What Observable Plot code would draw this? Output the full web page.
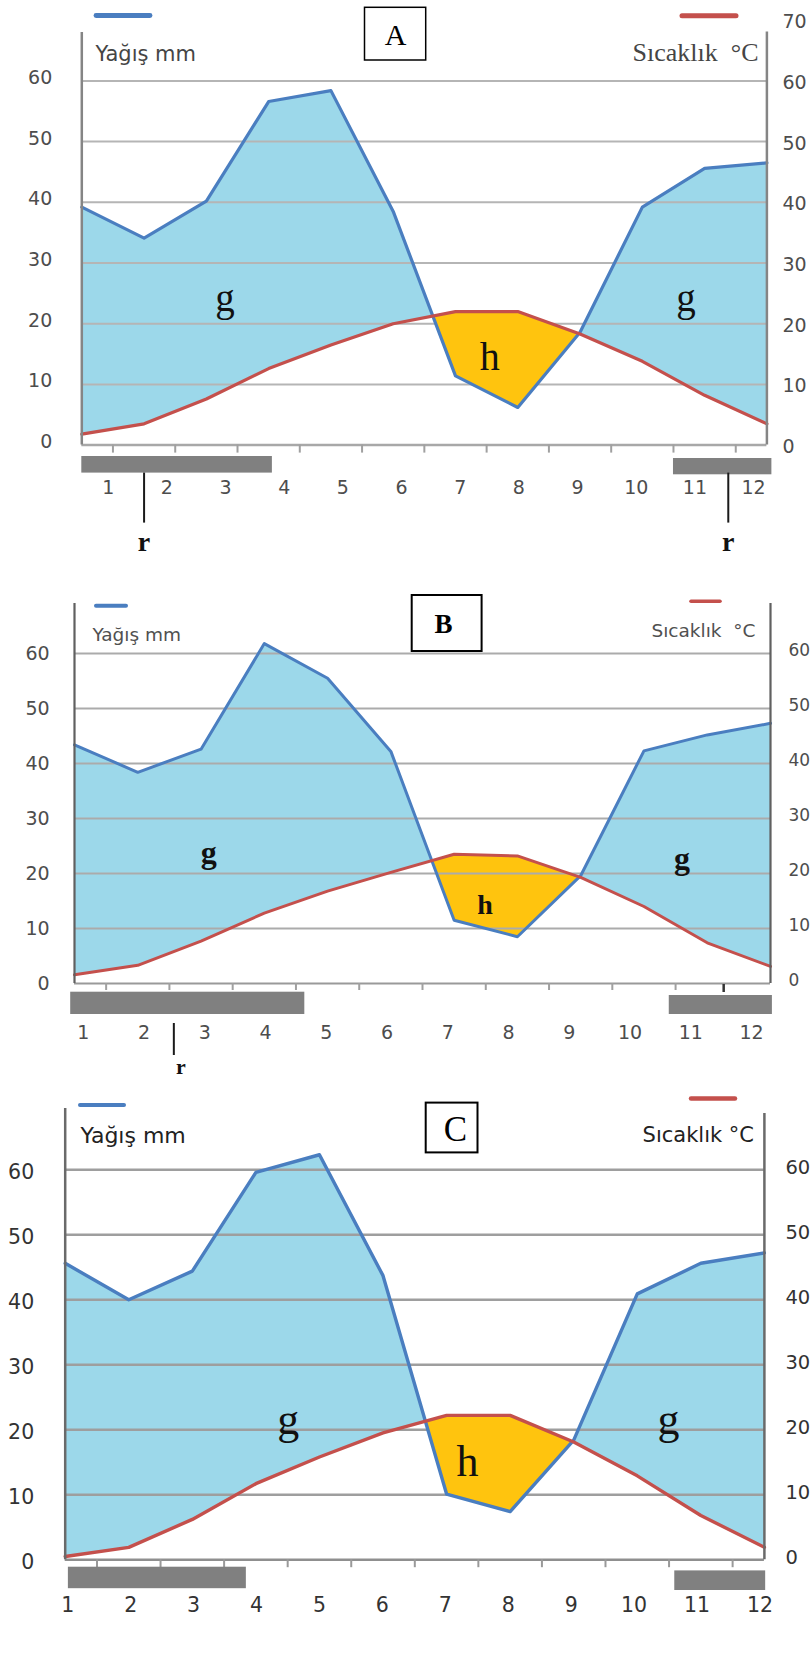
<!DOCTYPE html>
<html><head><meta charset="utf-8">
<script src="https://cdn.jsdelivr.net/npm/d3@7"></script>
<script src="https://cdn.jsdelivr.net/npm/@observablehq/plot@0.6"></script>
<style>
html,body{margin:0;padding:0;background:#fff;overflow:hidden;}
#page{position:relative;width:812px;height:1668px;overflow:hidden;background:#fff;}
.panel{position:absolute;left:0;}
.panel svg{display:block;overflow:hidden;}
</style></head><body><div id="page"></div>
<script>
// ---------- data ----------
const months = [1,2,3,4,5,6,7,8,9,10,11,12];
const monthLabels = ["1","2","3","4","5","6","7","8","9","10","11","12"];
const leftTicks = [0,10,20,30,40,50,60];
const rightTicksA = [0,10,20,30,40,50,60,70];
const rightTicksBC = [0,10,20,30,40,50,60];
const gridValues = [10,20,30,40,50,60];
const halfMonths = [1.5,2.5,3.5,4.5,5.5,6.5,7.5,8.5,9.5,10.5,11.5];
const halfMonthsB = [1.5,2.5,3.5,4.5,5.5,6.5,7.5,8.5,9.5,10.5];

// Panel A
const precipA = [39.2, 34.1, 40.2, 56.6, 58.4, 38.5, 11.4, 6.2, 18.6, 39.2, 45.6, 46.5];
const tempA   = [1.8, 3.5, 7.6, 12.6, 16.5, 20.0, 22.0, 22.0, 18.3, 13.8, 8.2, 3.5];
const barsA = [{from: 1.0, to: 4.06}, {from: 10.5, to: 12.08}];
const rMarksA = [{line: 2.0, text: 2.0}, {line: 11.38, text: 11.38}];
const zonesA = [{x: 3.30, y: 22.1, text: "g"}, {x: 10.70, y: 22.1, text: "g"}, {x: 7.55, y: 12.3, text: "h"}];

// Panel B
const precipB = [43.4, 38.4, 42.6, 61.8, 55.5, 42.2, 11.5, 8.5, 19.6, 42.3, 45.2, 47.3];
const tempB   = [1.6, 3.3, 7.7, 12.8, 16.8, 20.2, 23.5, 23.2, 19.3, 14.0, 7.4, 3.1];
const barsB = [{from: 0.94, to: 4.64}, {from: 10.4, to: 12.03}];
const rMarksB = [{line: 2.57, text: 2.68}];
const zonesB = [{x: 3.12, y: 21.9, text: "g"}, {x: 10.60, y: 20.8, text: "g"}, {x: 7.49, y: 12.7, text: "h"}];

// Panel C
const precipC = [45.6, 40.0, 44.4, 59.6, 62.3, 43.7, 10.1, 7.4, 18.4, 40.9, 45.6, 47.2];
const tempC   = [0.5, 1.9, 6.2, 11.7, 15.8, 19.5, 22.2, 22.2, 18.1, 12.9, 6.8, 1.9];
const barsC = [{from: 1.05, to: 3.85}, {from: 10.59, to: 12.02}];
const rMarksC = [];
const zonesC = [{x: 4.51, y: 19.3, text: "g"}, {x: 10.49, y: 19.3, text: "g"}, {x: 7.33, y: 12.9, text: "h"}];

// ---------- styles ----------
const SANS = "DejaVu Sans";
const SERIF = "Liberation Serif";
const COLORS = {wet: "#9cd8ea", dry: "#ffc40e", precip: "#4a7ec0", temp: "#c4504c", bar: "#808080"};

const panels = [
  {
    top: 0, height: 560, x1px: 81.3, x12px: 766.4, y0px: 444.6, unitPx: 6.07, yMax: 70,
    precip: precipA, temp: tempA, bars: barsA, rMarks: rMarksA, zones: zonesA, rightTicks: rightTicksA,
    gridColor: "#b5b5b5", gridWidth: 2, axisColor: "#858585", axisWidth: 2.5, leftTop: 32, rightTop: 31.4,
    baseColor: "#a8a8a8", baseWidth: 2.5, ticks: halfMonths, tickLen: 8, tickColor: "#a0a0a0",
    barPx: [[11.4, 28], [13.4, 29.7]], labelStart: 1.424, labelStep: 0.942, labelBelow: 48.4,
    tickFont: 19, rightFont: 19, labelColor: "#4d4d4d", leftPad: 29.5, leftDy: -3, rightPad: 15.6, rightDy: 2,
    zoneWeight: "normal", zoneSize: {g: 39, h: 40}, lineWidth: 3.2, dryOverGrid: true,
    rLine: [28, 78], rTextBelow: 105.4, rSize: 28, extraTicks: [],
    legend: [{x1: 96, x2: 150, y: 15, w: 4.8, color: COLORS.precip}, {x1: 682, x2: 736, y: 15.2, w: 5, color: COLORS.temp}],
    box: {x1: 364.5, x2: 425.7, y1: 7.3, y2: 60, sw: 1.5},
    title: {text: "A", x: 395, y: 35, size: 30, weight: "normal"},
    yagis: {x: 95, y: 60, size: 21, font: SANS, color: "#454545"},
    sicaklik: {x: 758, y: 60, size: 26, font: SERIF, color: "#454545", text: "Sıcaklık  °C"}
  },
  {
    top: 560, height: 518, x1px: 74, x12px: 770, y0px: 983, unitPx: 5.5, yMax: 70,
    precip: precipB, temp: tempB, bars: barsB, rMarks: rMarksB, zones: zonesB, rightTicks: rightTicksBC,
    gridColor: "#ababab", gridWidth: 2, axisColor: "#606060", axisWidth: 2.2, leftTop: 603, rightTop: 603,
    baseColor: "#9a9a9a", baseWidth: 2, ticks: halfMonthsB, tickLen: 7, tickColor: "#a0a0a0",
    barPx: [[8.7, 31], [12, 31]], labelStart: 1.14, labelStep: 0.96, labelBelow: 55,
    tickFont: 19, rightFont: 17, labelColor: "#4d4d4d", leftPad: 24.8, leftDy: 0, rightPad: 18, rightDy: -3,
    zoneWeight: "bold", zoneSize: {g: 32, h: 28}, lineWidth: 3, dryOverGrid: false,
    rLine: [40, 72], rTextBelow: 90, rSize: 22, extraTicks: [{x: 11.26, from: 1, to: 9}],
    legend: [{x1: 96, x2: 126, y: 605.3, w: 4, color: COLORS.precip}, {x1: 691, x2: 720, y: 600.8, w: 3.6, color: COLORS.temp}],
    box: {x1: 411.7, x2: 481.6, y1: 595, y2: 651, sw: 2},
    title: {text: "B", x: 443, y: 624, size: 27, weight: "bold"},
    yagis: {x: 92, y: 640, size: 18.5, font: SANS, color: "#505050"},
    sicaklik: {x: 755, y: 636, size: 18.5, font: SANS, color: "#505050", text: "Sıcaklık  °C"}
  },
  {
    top: 1080, height: 588, x1px: 64.7, x12px: 763.9, y0px: 1559.2, unitPx: 6.5, yMax: 70,
    precip: precipC, temp: tempC, bars: barsC, rMarks: rMarksC, zones: zonesC, rightTicks: rightTicksBC,
    gridColor: "#9e9e9e", gridWidth: 2.5, axisColor: "#6a6a6a", axisWidth: 2.5, leftTop: 1108, rightTop: 1113,
    baseColor: "#8f8f8f", baseWidth: 2.5, ticks: halfMonths, tickLen: 8, tickColor: "#999",
    barPx: [[7.5, 29], [11.2, 30.8]], labelStart: 1.04, labelStep: 0.99, labelBelow: 52.5,
    tickFont: 20.5, rightFont: 19.5, labelColor: "#333", leftPad: 31, leftDy: 3, rightPad: 21, rightDy: -2,
    zoneWeight: "normal", zoneSize: {g: 44, h: 44}, lineWidth: 3.4, dryOverGrid: true,
    rLine: [0, 0], rTextBelow: 0, rSize: 28, extraTicks: [],
    legend: [{x1: 80, x2: 124, y: 1104.5, w: 4, color: COLORS.precip}, {x1: 691, x2: 735, y: 1098, w: 4.5, color: COLORS.temp}],
    box: {x1: 425.7, x2: 477.5, y1: 1102.6, y2: 1152.4, sw: 2},
    title: {text: "C", x: 455, y: 1129, size: 35, weight: "normal"},
    yagis: {x: 80, y: 1142, size: 22, font: SANS, color: "#222"},
    sicaklik: {x: 753.5, y: 1141, size: 21, font: SANS, color: "#222", text: "Sıcaklık °C"}
  }
];

// split the area between the two curves into wet (P>T) and dry (T>P) polygons
function splitRegions(rows) {
  const out = [];
  let region = 0;
  const sign = r => (r.precip >= r.temp ? 1 : -1);
  let s = sign(rows[0]);
  out.push({x: rows[0].month, p: rows[0].precip, t: rows[0].temp, region, wet: s > 0});
  for (let i = 1; i < rows.length; i++) {
    const a = rows[i - 1], b = rows[i];
    const sb = sign(b);
    if (sb !== s) {
      const da = a.precip - a.temp, db = b.precip - b.temp;
      const f = da / (da - db);
      const x = a.month + f * (b.month - a.month);
      const y = a.precip + f * (b.precip - a.precip);
      out.push({x, p: y, t: y, region, wet: s > 0});
      region++; s = sb;
      out.push({x, p: y, t: y, region, wet: s > 0});
    }
    out.push({x: b.month, p: b.precip, t: b.temp, region, wet: s > 0});
  }
  return out;
}

function buildPanel(s) {
  const W = 812;
  const px2x = px => 1 + (px - s.x1px) * 11 / (s.x12px - s.x1px);
  const px2y = py => (s.y0px - py) / s.unitPx;
  const below = d => -d / s.unitPx;
  const rows = months.map((m, i) => ({month: m, precip: s.precip[i], temp: s.temp[i]}));
  const regions = splitRegions(rows);
  const wet = regions.filter(d => d.wet), dry = regions.filter(d => !d.wet);
  const marks = [];
  marks.push(Plot.areaY(wet, {x: "x", y1: "t", y2: "p", z: "region", fill: COLORS.wet}));
  const dryMark = Plot.areaY(dry, {x: "x", y1: "t", y2: "p", z: "region", fill: COLORS.dry});
  if (!s.dryOverGrid) marks.push(dryMark);
  marks.push(Plot.ruleY(gridValues, {x1: 1, x2: 12, stroke: s.gridColor, strokeWidth: s.gridWidth}));
  if (s.dryOverGrid) marks.push(dryMark);
  marks.push(Plot.ruleY([0], {x1: 1, x2: 12, stroke: s.baseColor, strokeWidth: s.baseWidth}));
  marks.push(Plot.ruleX(s.ticks, {y1: 0, y2: below(s.tickLen), stroke: s.tickColor, strokeWidth: 2}));
  marks.push(Plot.line(rows, {x: "month", y: "precip", stroke: COLORS.precip, strokeWidth: s.lineWidth}));
  marks.push(Plot.line(rows, {x: "month", y: "temp", stroke: COLORS.temp, strokeWidth: s.lineWidth}));
  marks.push(Plot.ruleX([{x: 1, top: px2y(s.leftTop)}, {x: 12, top: px2y(s.rightTop)}],
    {x: "x", y1: 0, y2: "top", stroke: s.axisColor, strokeWidth: s.axisWidth}));
  marks.push(Plot.rect(s.bars.map((b, i) => ({...b, y1: below(s.barPx[i][0]), y2: below(s.barPx[i][1])})),
    {x1: "from", x2: "to", y1: "y1", y2: "y2", fill: COLORS.bar}));
  marks.push(Plot.text(months, {x: m => s.labelStart + (m - 1) * s.labelStep, y: below(s.labelBelow),
    text: (m, i) => monthLabels[i], lineAnchor: "bottom", textAnchor: "middle",
    fontSize: s.tickFont, fontFamily: SANS, fill: s.labelColor}));
  marks.push(Plot.axisY({anchor: "left", ticks: leftTicks, tickSize: 0, tickPadding: s.leftPad, dy: s.leftDy,
    fontSize: s.tickFont, fontFamily: SANS, color: s.labelColor, label: null}));
  marks.push(Plot.axisY({anchor: "right", ticks: s.rightTicks, tickSize: 0, tickPadding: s.rightPad, dy: s.rightDy,
    fontSize: s.rightFont, fontFamily: SANS, color: s.labelColor, label: null}));
  marks.push(Plot.text(s.zones, {x: "x", y: "y", text: "text", lineAnchor: "bottom", textAnchor: "middle",
    fontFamily: SERIF, fontSize: d => s.zoneSize[d.text], fontWeight: s.zoneWeight, fill: "#111"}));
  if (s.rMarks.length) {
    marks.push(Plot.ruleX(s.rMarks, {x: "line", y1: below(s.rLine[0]), y2: below(s.rLine[1]), stroke: "#1a1a1a", strokeWidth: 2}));
    marks.push(Plot.text(s.rMarks, {x: "text", y: below(s.rTextBelow), text: () => "r", lineAnchor: "bottom",
      fontFamily: SERIF, fontWeight: "bold", fontSize: s.rSize, fill: "#111"}));
  }
  if (s.extraTicks.length) {
    marks.push(Plot.ruleX(s.extraTicks, {x: "x", y1: d => below(d.from), y2: d => below(d.to), stroke: "#333", strokeWidth: 2.5}));
  }
  for (const L of s.legend) {
    marks.push(Plot.ruleY([L], {x1: px2x(L.x1), x2: px2x(L.x2), y: px2y(L.y), stroke: L.color, strokeWidth: L.w, strokeLinecap: "round"}));
  }
  marks.push(Plot.rect([s.box], {x1: px2x(s.box.x1), x2: px2x(s.box.x2), y1: px2y(s.box.y1), y2: px2y(s.box.y2),
    fill: "white", stroke: "black", strokeWidth: s.box.sw}));
  marks.push(Plot.text([s.title.text], {x: px2x(s.title.x), y: px2y(s.title.y), text: d => d, lineAnchor: "middle",
    textAnchor: "middle", fontFamily: SERIF, fontSize: s.title.size, fontWeight: s.title.weight, fill: "#000"}));
  marks.push(Plot.text(["Yağış mm"], {x: px2x(s.yagis.x), y: px2y(s.yagis.y), text: d => d, lineAnchor: "bottom",
    textAnchor: "start", fontFamily: s.yagis.font, fontSize: s.yagis.size, fill: s.yagis.color}));
  marks.push(Plot.text([s.sicaklik.text], {x: px2x(s.sicaklik.x), y: px2y(s.sicaklik.y), text: d => d, lineAnchor: "bottom",
    textAnchor: "end", fontFamily: s.sicaklik.font, fontSize: s.sicaklik.size, fill: s.sicaklik.color}));

  const svg = Plot.plot({
    width: W, height: s.height,
    marginLeft: s.x1px, marginRight: W - s.x12px,
    marginTop: (s.y0px - s.top) - s.yMax * s.unitPx,
    marginBottom: s.top + s.height - s.y0px,
    x: {domain: [1, 12], axis: null},
    y: {domain: [0, s.yMax], axis: null},
    style: {fontFamily: SANS, background: "transparent", overflow: "hidden"},
    marks
  });
  const div = document.createElement("div");
  div.className = "panel";
  div.style.top = s.top + "px";
  div.appendChild(svg);
  document.getElementById("page").appendChild(div);
}

panels.forEach(buildPanel);
</script></body></html>
